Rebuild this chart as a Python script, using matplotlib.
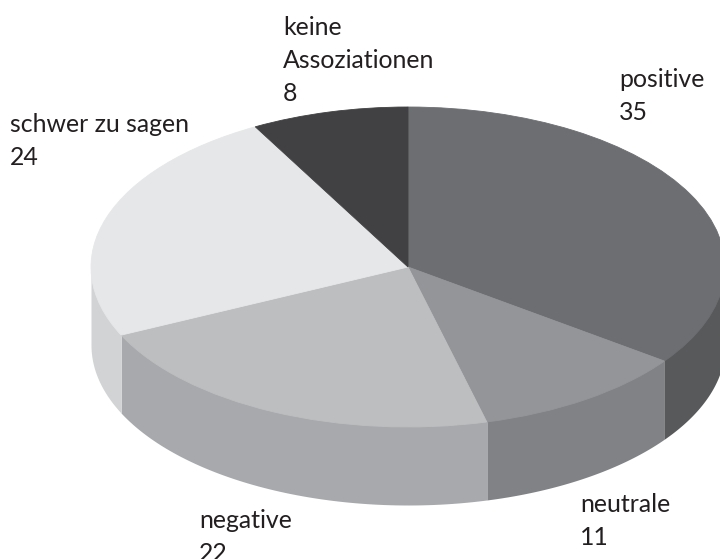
import numpy as np
import matplotlib
matplotlib.use('Agg')
import matplotlib.pyplot as plt

# Daten (im Uhrzeigersinn ab 12 Uhr)
labels = ['positive', 'neutrale', 'negative', 'schwer zu sagen', 'keine\nAssoziationen']
values = [35, 11, 22, 24, 8]
top_colors = ['#6d6e71', '#939598', '#bcbec0', '#e6e7e8', '#414042']
side_colors = ['#58595b', '#808285', '#a7a9ac', '#d1d3d4', '#414042']

# Label-Position in Pixeln (links, oben)
label_pos = [(619, 68), (580, 493), (199, 509), (10, 113), (283, 16)]

W, H = 720, 559
CX, CY = 408, 267
RX, RY = 317, 160
DEPTH = 78 / RY

plt.rcParams['font.family'] = ['Lato', 'DejaVu Sans']

fig = plt.figure(figsize=(W / 100, H / 100), dpi=100)
ax = fig.add_axes([0, 0, 1, 1])

# Oberseite
wedges, _ = ax.pie(values, colors=top_colors, startangle=90, counterclock=False, radius=1,
                   wedgeprops={'linewidth': 0.6, 'zorder': 3})
for w, c in zip(wedges, top_colors):
    w.set_edgecolor(c)

# Seitenwand: nur die vordere Haelfte der Ellipse ist sichtbar
edges = np.cumsum([0] + values) / sum(values) * 2 * np.pi
for i in range(len(values)):
    a = max(edges[i], np.pi / 2)
    b = min(edges[i + 1], 3 * np.pi / 2)
    if a >= b:
        continue
    t = np.linspace(a, b, 100)
    x = np.sin(t)
    y = np.cos(t)
    # etwas unter die Oberseite ziehen, sonst bleibt ein heller Spalt
    ax.fill_between(x, y - DEPTH, y + 0.03, color=side_colors[i], linewidth=0, zorder=2)

# Pixelraster: Ellipse wird ueber die Achsengrenzen gestreckt
ax.set_aspect('auto')
ax.set_xlim(-CX / RX, (W - CX) / RX)
ax.set_ylim(-(H - CY) / RY, CY / RY)
ax.axis('off')

for lab, val, (px, py) in zip(labels, values, label_pos):
    ax.text(px / W, 1 - py / H, f'{lab}\n{val}', transform=ax.transAxes,
            fontsize=17.9, color='#231f20', ha='left', va='top', linespacing=1.52,
            clip_on=False)

fig.savefig('out.png', dpi=100)
